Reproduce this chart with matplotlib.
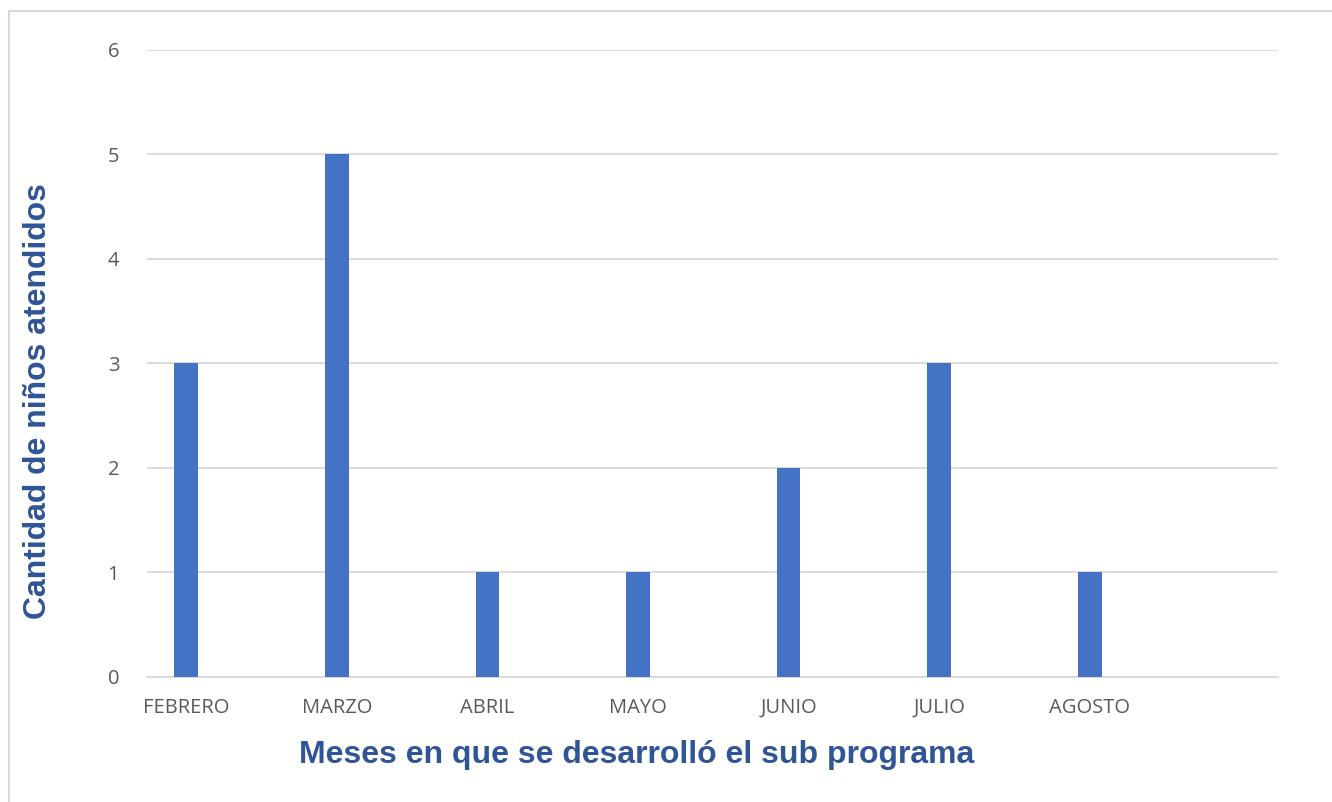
import matplotlib
matplotlib.use("Agg")
import matplotlib.pyplot as plt
from matplotlib.patches import Rectangle

MESES = ["FEBRERO", "MARZO", "ABRIL", "MAYO", "JUNIO", "JULIO", "AGOSTO"]
NINOS = [3, 5, 1, 1, 2, 3, 1]
Y_TICKS = [0, 1, 2, 3, 4, 5, 6]

BAR_BLUE = "#4472C4"
TITLE_BLUE = "#2F5597"
GRID_GRAY = "#D9D9D9"
TICK_GRAY = "#595959"

fig = plt.figure(figsize=(13.32, 8.02), dpi=100)
ax = fig.add_axes([0.1104, 0.1559, 0.8491, 0.7818])

x = list(range(len(MESES)))
ax.bar(x, NINOS, width=0.157, color=BAR_BLUE, zorder=3)

ax.set_xlim(-0.26, 7.25)
ax.set_ylim(0, 6)
ax.set_yticks(Y_TICKS)
ax.set_xticks(x)
ax.set_xticklabels(MESES)
ax.grid(axis="y", color=GRID_GRAY, lw=1.3, zorder=0)
for s in ["top", "right", "left"]:
    ax.spines[s].set_visible(False)
ax.spines["bottom"].set_color(GRID_GRAY)
ax.spines["bottom"].set_linewidth(1.3)
ax.tick_params(length=0, colors=TICK_GRAY, labelsize=14.5)
ax.tick_params(axis="x", pad=15)
ax.tick_params(axis="y", pad=20)
for lab in ax.get_xticklabels() + ax.get_yticklabels():
    lab.set_fontfamily("Open Sans")

fig.text(0.478, 0.058, "Meses en que se desarrolló el sub programa",
         ha="center", va="center", fontsize=23, fontweight="bold",
         color=TITLE_BLUE, family="Liberation Sans")
fig.text(0.0285, 0.50, "Cantidad de niños atendidos", rotation=90,
         ha="center", va="center", fontsize=23, fontweight="bold",
         color=TITLE_BLUE, family="Liberation Sans")

# thin chart-area frame, running off the right and bottom edges
fig.patches.append(Rectangle((9 / 1332, -0.05), 1.1, 0.05 + (802 - 11) / 802,
                             transform=fig.transFigure, fill=False,
                             edgecolor="#D9D9D9", lw=1.5))

fig.savefig("out.png", dpi=100)
